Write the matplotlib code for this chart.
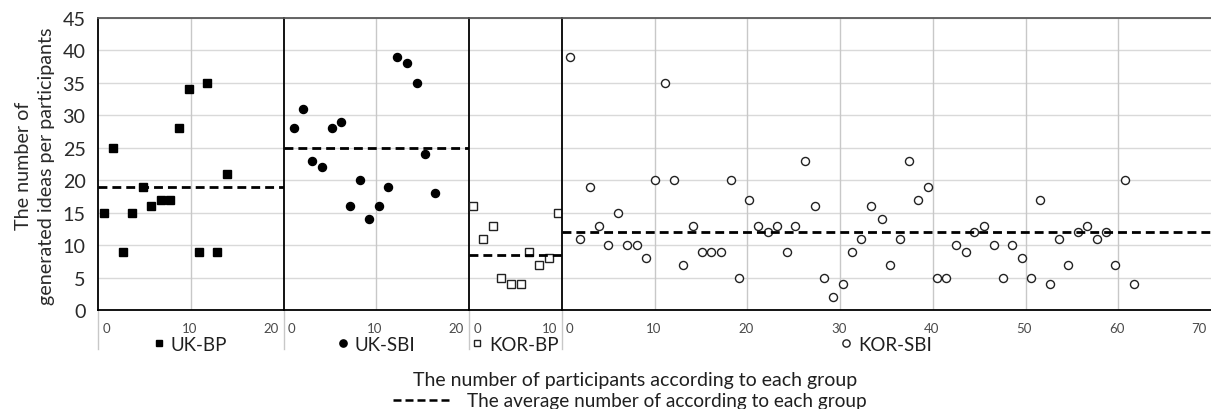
import matplotlib
matplotlib.use("Agg")
import matplotlib.pyplot as plt
from matplotlib.lines import Line2D

plt.rcParams['font.family'] = ['Lato', 'DejaVu Sans']

groups = ["UK-BP", "UK-SBI", "KOR-BP", "KOR-SBI"]
x_max = [20, 20, 10, 70]

ukbp_x = [0.7, 1.6, 2.7, 3.7, 4.8, 5.7, 6.8, 7.8, 8.7, 9.8, 10.9, 11.8, 12.8, 13.9]
ukbp_y = [15, 25, 9, 15, 19, 16, 17, 17, 28, 34, 9, 35, 9, 21]

uksbi_x = [1.15, 2.1, 3.1, 4.2, 5.25, 6.2, 7.2, 8.25, 9.25, 10.3, 11.3, 12.25, 13.3, 14.35, 15.3, 16.35]
uksbi_y = [28, 31, 23, 22, 28, 29, 16, 20, 14, 16, 19, 39, 38, 35, 24, 18]

korbp_x = [0.45, 1.5, 2.55, 3.5, 4.5, 5.6, 6.5, 7.55, 8.6, 9.55]
korbp_y = [16, 11, 13, 5, 4, 4, 9, 7, 8, 15]

korsbi_x = [0.93, 2.0, 3.05, 3.98, 5.02, 6.06, 6.99, 8.06, 9.1, 10.04, 11.08, 12.15, 13.08, 14.1,
            15.16, 16.13, 17.17, 18.2, 19.14, 20.18, 21.2, 22.19, 23.2, 24.27, 25.2, 26.24, 27.28,
            28.24, 29.28, 30.32, 31.25, 32.29, 33.3, 34.48, 35.41, 36.45, 37.49, 38.42, 39.46, 40.5,
            41.47, 42.5, 43.55, 44.5, 45.56, 46.6, 47.53, 48.57, 49.6, 50.57, 51.6, 52.65, 53.58,
            54.62, 55.66, 56.63, 57.67, 58.7, 59.64, 60.68, 61.72]
korsbi_y = [39, 11, 19, 13, 10, 15, 10, 10, 8, 20, 35, 20, 7, 13, 9, 9, 9, 20, 5, 17, 13, 12, 13, 9,
            13, 23, 16, 5, 2, 4, 9, 11, 16, 14, 7, 11, 23, 17, 19, 5, 5, 10, 9, 12, 13, 10, 5, 10,
            8, 5, 17, 4, 11, 7, 12, 13, 11, 12, 7, 20, 4]

means = [18.9, 25, 8.4, 12]

y_ticks = [0, 5, 10, 15, 20, 25, 30, 35, 40, 45]

xs = [ukbp_x, uksbi_x, korbp_x, korsbi_x]
ys = [ukbp_y, uksbi_y, korbp_y, korsbi_y]
styles = [
    dict(marker='s', mfc='black', mec='black', ms=5.2),
    dict(marker='o', mfc='black', mec='black', ms=5.8),
    dict(marker='s', mfc='white', mec='#222222', ms=5.2, mew=1.0),
    dict(marker='o', mfc='white', mec='#222222', ms=5.8, mew=1.0),
]

W, H = 1211, 410
fig = plt.figure(figsize=(W / 100, H / 100), dpi=100)
gs = fig.add_gridspec(1, 4, width_ratios=x_max, wspace=0,
                      left=98 / W, right=1.0, bottom=1 - 311 / H, top=1 - 19 / H)

tick_col = '#4a4a4a'
text_col = '#1f1f1f'
grid_col = '#d9d9d9'
axes = []
for i in range(4):
    ax = fig.add_subplot(gs[0, i])
    axes.append(ax)
    ax.set_xlim(0, x_max[i])
    ax.set_ylim(0, 45)
    ax.set_yticks(y_ticks)
    for v in y_ticks[1:]:
        ax.axhline(v, color=grid_col, lw=1.0, zorder=0)
    for v in range(10, x_max[i], 10):
        ax.axvline(v, color='#c8c8c8', lw=1.0, zorder=0)
    ax.plot(xs[i], ys[i], ls='none', zorder=3, **styles[i])
    ax.plot([0, x_max[i]], [means[i], means[i]], color='black', lw=2.0,
            dashes=(3.2, 1.8), zorder=4)

    ax.set_xticks([])
    xt = list(range(0, x_max[i] + 1, 10))
    for j, v in enumerate(xt):
        if j == 0:
            ha, dx = 'left', 3.0
        elif j == len(xt) - 1:
            ha, dx = 'right', -3.5
        else:
            ha, dx = 'center', -1.0
        ax.annotate(str(v), xy=(v, 0), xycoords=('data', 'axes fraction'),
                    xytext=(dx, -13), textcoords='offset points',
                    ha=ha, va='center', fontsize=9.5, color=tick_col,
                    annotation_clip=False)
    if i == 0:
        ax.tick_params(axis='y', length=0, pad=9, labelsize=14.2, labelcolor='#2a2a2a')
    else:
        ax.tick_params(axis='y', length=0, labelleft=False)

    for s in ['left', 'bottom']:
        ax.spines[s].set_color('black')
        ax.spines[s].set_linewidth(1.3)
    ax.spines['top'].set_color('#595959')
    ax.spines['top'].set_linewidth(1.3)
    ax.spines['right'].set_visible(False)
    ax.plot([0, 0], [0, -0.134], transform=ax.transAxes, clip_on=False,
            color='#c8c8c8', lw=1.0)

    h = Line2D([], [], ls='none', **styles[i])
    ax.legend(handles=[h], labels=[groups[i]], loc='center',
              bbox_to_anchor=(0.5, -0.117), frameon=False, fontsize=13.5,
              handlelength=0.55, handletextpad=0.35, borderpad=0,
              labelcolor=text_col, markerscale=0.9)

fig.text(35 / W, 1 - 166 / H,
         "The number of\ngenerated ideas per participants",
         rotation=90, ha='center', va='center', fontsize=14.2,
         multialignment='center', linespacing=1.4, color='#2a2a2a')

fig.text(635 / W, 1 - 381 / H, "The number of participants according to each group",
         ha='center', va='center', fontsize=14, color=text_col)

lh = Line2D([], [], color='black', lw=1.8, dashes=(3.2, 1.6))
fig.legend(handles=[lh], labels=["The average number of according to each group"],
           loc='center', bbox_to_anchor=(630 / W, 1 - 402 / H), frameon=False,
           fontsize=13.7, handlelength=3.0, handletextpad=0.9, borderpad=0,
           labelcolor=text_col)

fig.savefig("out.png", dpi=100)
